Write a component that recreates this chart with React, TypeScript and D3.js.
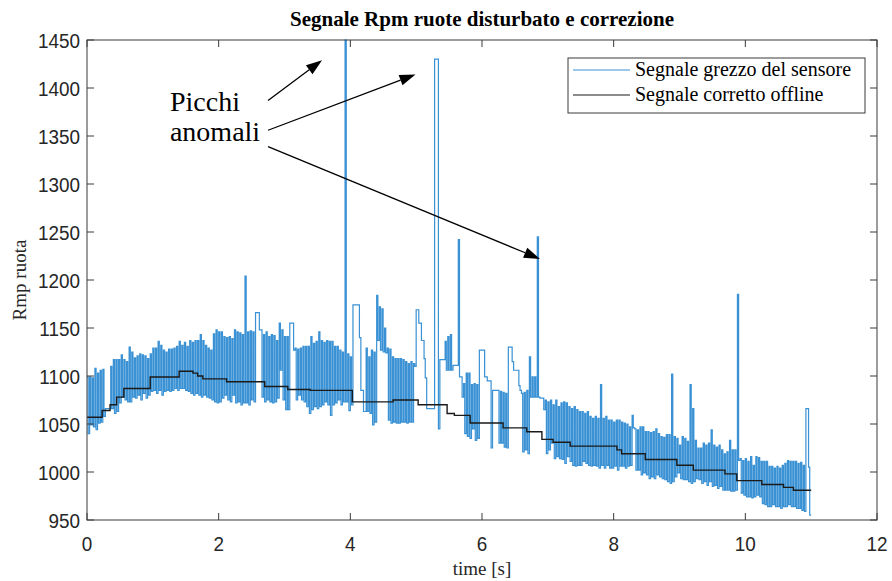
import React from 'react';
import * as d3 from 'd3';

const PERIOD = 0.04;
const PULSE = 0.018;

// raw sensor signal: per-cycle high and low levels (rpm)
const rawHi = [
  1099,1099,1098,1108,1103,1106,1107,1066,1066,1110,
  1117,1117,1117,1122,1117,1115,1130,1125,1119,1121,
  1123,1122,1121,1118,1123,1129,1129,1136,1132,1127,
  1125,1128,1128,1129,1131,1136,1132,1135,1131,1137,
  1135,1137,1137,1143,1137,1132,1129,1127,1144,1148,
  1146,1146,1141,1140,1141,1139,1148,1146,1145,1143,
  1204,1146,1147,1146,1166,1166,1148,1143,1146,1141,
  1143,1142,1137,1155,1148,1141,1141,1155,1155,1129,
  1128,1129,1131,1131,1131,1141,1134,1136,1146,1137,
  1135,1137,1136,1136,1131,1131,1127,1125,1450,1123,
  1120,1174,1174,1174,1085,1063,1129,1120,1127,1125,
  1184,1172,1170,1150,1129,1128,1120,1118,1118,1118,
  1117,1115,1113,1115,1113,1169,1155,1137,1118,1066,
  1066,1066,1430,1430,1117,1117,1136,1141,1143,1111,
  1111,1242,1099,1092,1103,1103,1091,1092,1091,1127,
  1127,1099,1095,1095,1085,1085,1085,1084,1083,1082,
  1130,1130,1106,1106,1090,1082,1083,1085,1120,1099,
  1099,1245,1077,1077,1075,1073,1075,1070,1075,1068,
  1072,1073,1072,1068,1066,1068,1065,1063,1063,1061,
  1063,1058,1056,1058,1056,1091,1056,1058,1054,1054,
  1052,1054,1054,1052,1051,1050,1047,1059,1045,1044,
  1047,1047,1042,1042,1041,1042,1045,1040,1037,1036,
  1039,1039,1102,1037,1035,1028,1037,1035,1032,1091,
  1066,1033,1025,1025,1030,1028,1030,1044,1028,1026,
  1028,1023,1019,1021,1033,1023,1023,1185,1014,1012,
  1014,1011,1016,1007,1016,1015,1011,1011,1011,1006,
  1006,1004,1006,1004,1007,1009,1012,1011,1011,1011,
  1009,1010,1007,1066,1005,
];
const rawLo = [
  1040,1049,1047,1044,1051,1052,1058,1066,1066,1066,
  1061,1063,1072,1078,1075,1073,1073,1078,1077,1080,
  1075,1082,1077,1080,1084,1085,1082,1085,1080,1084,
  1085,1084,1085,1087,1085,1087,1087,1085,1084,1082,
  1080,1082,1080,1078,1080,1078,1077,1075,1073,1072,
  1073,1077,1080,1075,1073,1080,1072,1073,1070,1072,
  1072,1070,1075,1073,1166,1148,1078,1073,1075,1073,
  1072,1073,1077,1106,1075,1065,1065,1155,1127,1075,
  1080,1075,1073,1068,1061,1065,1068,1066,1068,1070,
  1073,1070,1059,1070,1072,1075,1070,1073,1073,1064,
  1070,1174,1174,1140,1085,1063,1063,1061,1049,1052,
  1137,1127,1125,1124,1054,1051,1052,1051,1051,1052,
  1052,1051,1052,1052,1110,1169,1155,1137,1098,1066,
  1066,1066,1430,1045,1117,1117,1106,1106,1106,1111,
  1111,1099,1078,1040,1037,1035,1045,1033,1035,1127,
  1127,1099,1095,1025,1085,1085,1030,1030,1026,1025,
  1130,1115,1106,1106,1085,1021,1023,1019,1078,1078,
  1078,1078,1077,1065,1019,1023,1030,1014,1016,1014,
  1013,1009,1016,1011,1007,1006,1007,1007,1011,1009,
  1007,1006,1007,1006,1004,1007,1004,1007,1004,1004,
  1006,1002,1006,1006,1004,1006,1007,1046,1002,1002,
  997,999,997,993,995,993,997,995,993,992,
  990,988,990,995,999,993,992,992,990,988,
  990,993,992,988,990,986,990,985,986,983,
  985,981,981,981,980,980,981,1012,978,976,
  974,974,973,974,976,974,967,966,964,964,
  966,964,964,962,964,964,966,964,964,962,
  962,960,959,1066,955,
];

// offline corrected signal (stairs)
const corrTime = [0, 0.23, 0.35, 0.45, 0.56, 0.96, 1.40, 1.61, 1.68, 1.76, 2.12, 2.70, 3.05, 3.39, 4.03, 4.65, 5.03, 5.47, 5.58, 5.82, 6.32, 6.68, 6.91, 7.08, 7.34, 8.05, 8.12, 8.48, 8.96, 9.21, 9.69, 9.87, 10.25, 10.58, 10.73, 11.0];
const corrValue = [1057, 1064, 1070, 1078, 1087, 1099, 1105, 1103, 1100, 1097, 1094, 1089, 1086, 1085, 1073, 1075, 1070, 1061, 1059, 1051, 1046, 1042, 1034, 1031, 1027, 1023, 1019, 1013, 1007, 1002, 998, 991, 987, 984, 981, 981];

const xTicks = [0, 2, 4, 6, 8, 10, 12];
const yTicks = [950, 1000, 1050, 1100, 1150, 1200, 1250, 1300, 1350, 1400, 1450];
const seriesNames = ['Segnale grezzo del sensore', 'Segnale corretto offline'];
const seriesColors = ['#3A91D4', '#1a1a1a'];
const titleText = 'Segnale Rpm ruote disturbato e correzione';
const xLabel = 'time [s]';
const yLabel = 'Rmp ruota';
const annotationLines = ['Picchi', 'anomali'];
const annotationPos = [1.26, 1376];
const arrowFrom = [[2.75, 1387], [2.75, 1356], [2.75, 1339]];
const arrowTo = [[3.57, 1429], [4.99, 1414], [6.88, 1222]];

export default function App() {
  const x = d3.scaleLinear().domain([0, 12]).range([87, 877]);
  const y = d3.scaleLinear().domain([950, 1450]).range([520, 40]);

  const rawPts: [number, number][] = [];
  rawHi.forEach((h, i) => {
    const t = i * PERIOD;
    rawPts.push([t, h], [t + PULSE, h], [t + PULSE, rawLo[i]], [t + PERIOD, rawLo[i]]);
  });
  const line = d3.line<[number, number]>().x(d => x(d[0])).y(d => y(d[1]));
  const corrPts: [number, number][] = corrTime.map((t, i) => [t, corrValue[i]]);
  const stair = d3.line<[number, number]>().x(d => x(d[0])).y(d => y(d[1])).curve(d3.curveStepAfter);

  const [x0, x1] = x.range();
  const [y1, y0] = y.range();
  const tickLen = 7;
  const axisColor = '#3a3a3a';
  const sansFont = 'Liberation Sans, Arial, sans-serif';
  const serifFont = 'Liberation Serif, Times New Roman, serif';

  const arrows = arrowFrom.map((f, i) => {
    const fx = x(f[0]), fy = y(f[1]);
    const tx = x(arrowTo[i][0]), ty = y(arrowTo[i][1]);
    const dx = tx - fx, dy = ty - fy;
    const len = Math.sqrt(dx * dx + dy * dy);
    const ux = dx / len, uy = dy / len;
    const L = 16, Wd = 5.5;
    const bx = tx - ux * L, by = ty - uy * L;
    const head = `${tx},${ty} ${bx - uy * Wd},${by + ux * Wd} ${bx + uy * Wd},${by - ux * Wd}`;
    return { fx, fy, bx, by, head };
  });

  const legX = 568, legY = 58, legW = 297, legH = 55;

  return (
    <svg width={892} height={581} style={{ position: 'absolute', left: 0, top: 0, background: '#fff' }}>
      <defs>
        <clipPath id="plotClip">
          <rect x={x0} y={y0 - 1} width={x1 - x0} height={y1 - y0 + 2} />
        </clipPath>
      </defs>
      <rect x={0} y={0} width={892} height={581} fill="#fff" />
      <text x={482} y={26} textAnchor="middle" fontFamily={serifFont} fontWeight="bold" fontSize={21} fill="#000">{titleText}</text>

      <g clipPath="url(#plotClip)">
        <path d={line(rawPts) || ''} fill="none" stroke={seriesColors[0]} strokeWidth={1.2} strokeLinejoin="miter" />
        <path d={stair(corrPts) || ''} fill="none" stroke={seriesColors[1]} strokeWidth={1.4} />
      </g>

      {/* axes box */}
      <rect x={x0} y={y0} width={x1 - x0} height={y1 - y0} fill="none" stroke={axisColor} strokeWidth={1} />
      {xTicks.map(t => (
        <g key={'xt' + t}>
          <line x1={x(t)} x2={x(t)} y1={y1} y2={y1 - tickLen} stroke={axisColor} />
          <line x1={x(t)} x2={x(t)} y1={y0} y2={y0 + tickLen} stroke={axisColor} />
          <text transform={`translate(${x(t)},${y1 + 31}) scale(0.9,1)`} textAnchor="middle" fontFamily={sansFont} fontSize={21} fill="#262626">{t}</text>
        </g>
      ))}
      {yTicks.map(v => (
        <g key={'yt' + v}>
          <line x1={x0} x2={x0 + tickLen} y1={y(v)} y2={y(v)} stroke={axisColor} />
          <line x1={x1} x2={x1 - tickLen} y1={y(v)} y2={y(v)} stroke={axisColor} />
          <text transform={`translate(${x0 - 7},${y(v) + 7.5}) scale(0.9,1)`} textAnchor="end" fontFamily={sansFont} fontSize={21} fill="#262626">{v}</text>
        </g>
      ))}
      <text x={482} y={575} textAnchor="middle" fontFamily={serifFont} fontSize={19} fill="#262626">{xLabel}</text>
      <text transform={`translate(26,${(y0 + y1) / 2}) rotate(-90)`} textAnchor="middle" fontFamily={serifFont} fontSize={19} fill="#262626">{yLabel}</text>

      {/* legend */}
      <rect x={legX} y={legY} width={legW} height={legH} fill="#fff" stroke={axisColor} strokeWidth={1} />
      {seriesNames.map((n, i) => (
        <g key={n}>
          <line x1={legX + 5} x2={legX + 62} y1={legY + 12 + i * 25} y2={legY + 12 + i * 25} stroke={seriesColors[i]} strokeWidth={1.2} />
          <text x={legX + 67} y={legY + 18 + i * 25} fontFamily={serifFont} fontSize={20} fill="#000">{n}</text>
        </g>
      ))}

      {/* annotation */}
      {annotationLines.map((s, i) => (
        <text key={s} x={x(annotationPos[0])} y={y(annotationPos[1]) + i * 30} fontFamily={serifFont} fontSize={28} fill="#000">{s}</text>
      ))}
      {arrows.map((a, i) => (
        <g key={'ar' + i}>
          <line x1={a.fx} y1={a.fy} x2={a.bx} y2={a.by} stroke="#000" strokeWidth={1.3} />
          <polygon points={a.head} fill="#000" />
        </g>
      ))}
    </svg>
  );
}
